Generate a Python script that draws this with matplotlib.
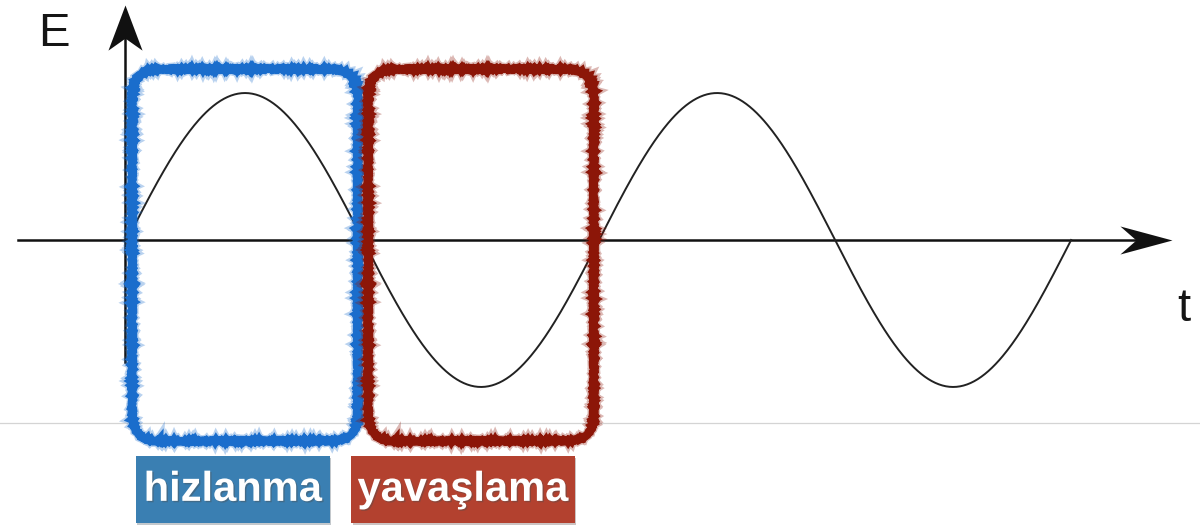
import numpy as np
import matplotlib
matplotlib.use("Agg")
import matplotlib.pyplot as plt
from matplotlib.patches import FancyBboxPatch, Rectangle
from matplotlib.path import Path
import matplotlib.patheffects as pe

plt.rcParams['font.family'] = ['Liberation Sans', 'DejaVu Sans']

# ---- data: sine wave (time in periods, E in amplitude units) ----
n_periods = 2
amplitude = 1.0
t = np.linspace(0, n_periods, 800)
E = amplitude * np.sin(2 * np.pi * t)

# phase windows (half periods) and their labels
box_start = [0.0, 0.5]
box_end = [0.5, 1.0]
box_labels = ['hizlanma', 'yavaşlama']
box_edge_colors = ['#1a6dcc', '#8c1608']
label_colors = ['#3a7fb2', '#b3412f']
label_left = [0.019, 0.475]
label_right = [0.430, 0.949]

fig = plt.figure(figsize=(12, 5.26), dpi=100)
ax = fig.add_axes([0, 0, 1, 1])
ax.set_xlim(-0.269, 2.273)
ax.set_ylim(-1.946, 1.633)
ax.axis('off')

# faint grey separator line
ax.axhline(-1.245, color='#d4d4d4', lw=0.9, zorder=1)

# sine curve
ax.plot(t, E, color='#222222', lw=1.4, zorder=3)

# axes lines
ax.plot([-0.231, 2.17], [0, 0], color='#111111', lw=1.8, zorder=2)
ax.plot([-0.004, -0.004], [-0.83, 1.55], color='#111111', lw=1.8, zorder=2)

# notched arrow heads as custom markers (tip at origin)
head = Path([(0, 0), (-52, 14), (-36, 0), (-52, -14), (0, 0)],
            [Path.MOVETO, Path.LINETO, Path.LINETO, Path.LINETO, Path.CLOSEPOLY])
ax.plot([2.214], [0], marker=head, markersize=75, color='#111111',
        markeredgewidth=0, zorder=4)
head_up = Path([(0, 0), (-17, -45), (0, -33), (17, -45), (0, 0)],
               [Path.MOVETO, Path.LINETO, Path.LINETO, Path.LINETO, Path.CLOSEPOLY])
ax.plot([-0.004], [1.599], marker=head_up, markersize=65, color='#111111',
        markeredgewidth=0, zorder=4)

ax.text(-0.155, 1.40, 'E', fontsize=34, color='#151515', ha='center', va='center')
ax.text(2.239, -0.47, 't', fontsize=34, color='#151515', ha='center', va='center')

# rough rounded boxes over each half period
inset = 0.011
top, bottom = 1.163, -1.367
for s, e, col in zip(box_start, box_end, box_edge_colors):
    x0 = s + inset
    w = (e - s) - 2 * inset
    for lw, alpha, sc in [(7.5, 0.3, 1.2), (6.0, 1.0, 0.9)]:
        box = FancyBboxPatch((x0, bottom), w, top - bottom,
                             boxstyle='round,pad=0,rounding_size=0.057',
                             mutation_aspect=472 / 147,
                             fc='none', ec=col, lw=lw, alpha=alpha, zorder=5)
        box.set_sketch_params(scale=sc, length=1.5, randomness=2)
        ax.add_patch(box)

# label tags
for l, r, txt, col in zip(label_left, label_right, box_labels, label_colors):
    ax.add_patch(Rectangle((l, -1.925), r - l, 0.456, fc=col, ec='none', zorder=5,
                           path_effects=[pe.SimplePatchShadow(offset=(1, -1.5), alpha=0.25),
                                         pe.Normal()]))
    ax.text((l + r) / 2, -1.70, txt, fontsize=30, fontweight='bold', color='white',
            ha='center', va='center', zorder=6,
            path_effects=[pe.withSimplePatchShadow(offset=(1, -1), alpha=0.4)])

fig.savefig('out.png', dpi=100, facecolor='white')
